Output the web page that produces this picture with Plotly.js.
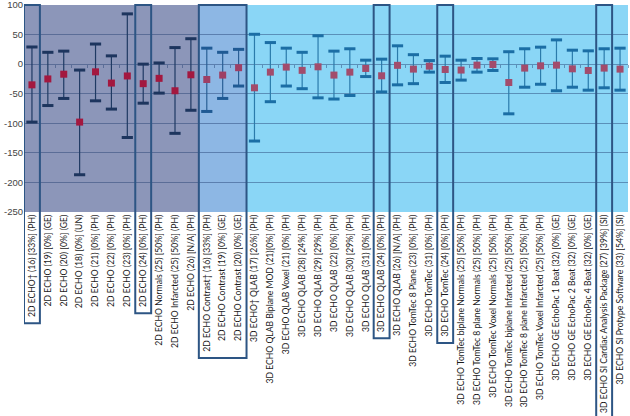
<!DOCTYPE html>
<html>
<head>
<meta charset="utf-8">
<script src="https://cdn.plot.ly/plotly-3.0.1.min.js"></script>
<style>
  body { margin: 0; background: #fff; }
  #chart { width: 630px; height: 416px; }
</style>
</head>
<body>
<div id="chart"></div>
<script>
// categories as printed under the axis
var labels = [
  "2D ECHO† (16) [33%] (PH)",
  "2D ECHO (19) [0%] (GE)",
  "2D ECHO (20) [0%] (GE)",
  "2D ECHO (18) [0%] (UN)",
  "2D ECHO (21) [0%] (PH)",
  "2D ECHO (22) [0%] (PH)",
  "2D ECHO (23) [0%] (PH)",
  "2D ECHO (24) [0%] (PH)",
  "2D ECHO Normals (25) [50%] (PH)",
  "2D ECHO Infarcted (25) [50%] (PH)",
  "2D ECHO (26) [N/A] (PH)",
  "2D ECHO Contrast† (16) [33%] (PH)",
  "2D ECHO Contrast (19) [0%] (GE)",
  "2D ECHO Contrast (20) [0%] (GE)",
  "3D ECHO† QLAB (17) [26%] (PH)",
  "3D ECHO QLAB Biplane MOD (21)[0%] (PH)",
  "3D ECHO QLAB Voxel (21) [0%] (PH)",
  "3D ECHO QLAB (28) [24%] (PH)",
  "3D ECHO QLAB (29) [29%] (PH)",
  "3D ECHO QLAB (22) [0%] (PH)",
  "3D ECHO QLAB (30) [29%] (PH)",
  "3D ECHO QLAB (31) [0%] (PH)",
  "3D ECHO QLAB (24) [0%] (PH)",
  "3D ECHO QLAB (26) [N/A] (PH)",
  "3D ECHO TomTec 8 Plane (23) [0%] (PH)",
  "3D ECHO TomTec (31) [0%] (PH)",
  "3D ECHO TomTec (24) [0%] (PH)",
  "3D ECHO TomTec biplane Normals (25) [50%] (PH)",
  "3D ECHO TomTec 8 plane Normals (25) [50%] (PH)",
  "3D ECHO TomTec Voxel Normals (25) [50%] (PH)",
  "3D ECHO TomTec biplane Infarcted (25) [50%] (PH)",
  "3D ECHO TomTec 8 plane Infarcted (25) [50%] (PH)",
  "3D ECHO TomTec Voxel Infarcted (25) [50%] (PH)",
  "3D ECHO GE EchoPac 1 Beat (32) [0%] (GE)",
  "3D ECHO GE EchoPac 2 Beat (32) [0%] (GE)",
  "3D ECHO GE EchoPac 4 Beat (32) [0%] (GE)",
  "3D ECHO SI Cardiac Analysis Package (27) [39%] (SI)",
  "3D ECHO SI Protype Software (33) [54%] (SI)"
];

// mean bias and limits of agreement
var means = [-35, -25, -17, -98, -13, -32, -20, -33, -24, -45, -18,
  -26, -18.5, -6,
  -40, -13.5, -5, -10.5, -4.5, -18.5, -13.5, -7.3, -19.7, -2, -8.4,
  -3.4, -9, -10, -1.7, -0.6, -31, -6.7, -2.8, -1.7, -7.9, -10.7, -6.7, -8.4];
var upper = [29, 20, 22, -10, 34, 14, 85, 0, 2, 28, 43,
  27, 20, 25,
  50.5, 36.5, 27, 20, 48, 22, 26, 6.7, 8.4, 31, 16,
  6, 13.5, 6.7, 9.5, 9, 21, 26, 28.7, 41, 23.6, 22.5, 26, 27];
var lower = [-98, -70, -58, -187, -62, -76, -124, -66, -49, -117, -78,
  -80, -58, -37,
  -130, -63.5, -37, -41.5, -57, -59, -53, -21, -47, -35, -33,
  -13.5, -31, -27, -13.5, -10.7, -84, -39, -34, -45, -39, -44, -40, -44];

// background groups: first / last index
var groups = [
  {from: 0, to: 10, bg: "#8c96b9", err: "#1f3a63", cap: "#1d355e", mark: "#a3183f"},
  {from: 11, to: 13, bg: "#8db7e4", err: "#2a5f96", cap: "#1f5a94", mark: "#9e3f65"},
  {from: 14, to: 37, bg: "#8ad6f6", err: "#2b7bab", cap: "#1b6ea5", mark: "#a24c6c"}
];

// outlined categories
var boxed = [[0, 0], [7, 7], [11, 13], [22, 22], [26, 26], [36, 36]];

var yTicks = [100, 50, 0, -50, -100, -150, -200, -250];
var yMin = -250, yMax = 100;

var labelFamily = "Lato";
var labelSize = 8.6;
var marginT = 5, marginB = 204;
var plotH = 416 - marginT - marginB;

var ctx = document.createElement("canvas").getContext("2d");
ctx.font = labelSize + "px " + labelFamily;
function textLen(s) { return ctx.measureText(s).width; }

var xs = labels.map(function (l, i) { return i; });

var traces = [];
groups.forEach(function (g) {
  var idx = xs.slice(g.from, g.to + 1);
  traces.push({
    x: idx,
    y: idx.map(function (i) { return means[i]; }),
    type: "scatter",
    mode: "markers",
    marker: {symbol: "square", size: 7, color: g.mark},
    error_y: {
      type: "data",
      symmetric: false,
      array: idx.map(function (i) { return upper[i] - means[i]; }),
      arrayminus: idx.map(function (i) { return means[i] - lower[i]; }),
      color: g.err,
      thickness: 1.2,
      width: 0
    },
    showlegend: false,
    hoverinfo: "skip"
  });
  // caps drawn as thick dashes
  traces.push({
    x: idx.concat(idx),
    y: idx.map(function (i) { return upper[i]; }).concat(idx.map(function (i) { return lower[i]; })),
    type: "scatter",
    mode: "markers",
    marker: {symbol: "line-ew", size: 8, line: {width: 3, color: g.cap}},
    showlegend: false,
    hoverinfo: "skip"
  });
});

// empty trace so that the tick axis on the zero line is drawn
traces.push({x: [], y: [], xaxis: "x2", showlegend: false});

var shapes = [];
groups.forEach(function (g) {
  shapes.push({
    type: "rect", layer: "below", xref: "x", yref: "paper",
    x0: g.from - 0.5, x1: g.to + 0.5, y0: 0, y1: 1,
    fillcolor: g.bg, line: {width: 0}
  });
});
boxed.forEach(function (b) {
  var longest = 0;
  for (var i = b[0]; i <= b[1]; i++) longest = Math.max(longest, textLen(labels[i]));
  shapes.push({
    type: "rect", layer: "above", xref: "x", yref: "paper",
    x0: b[0] - 0.5, x1: b[1] + 0.5, y0: -(longest + 9) / plotH, y1: 1,
    line: {color: "#2d5584", width: 2}
  });
});

var layout = {
  width: 630,
  height: 416,
  margin: {l: 24, r: 2, t: marginT, b: marginB},
  paper_bgcolor: "#ffffff",
  plot_bgcolor: "#ffffff",
  showlegend: false,
  xaxis: {
    range: [-0.5, labels.length - 0.5],
    tickvals: xs,
    ticktext: labels,
    tickangle: -90,
    ticks: "",
    showgrid: false,
    zeroline: false,
    showline: false,
    automargin: false,
    tickfont: {family: labelFamily, size: labelSize, color: "#1a1a1a"}
  },
  xaxis2: {
    overlaying: "x",
    anchor: "free",
    position: (0 - yMin) / (yMax - yMin),
    range: [-0.5, labels.length - 0.5],
    tickvals: xs.map(function (i) { return i + 0.5; }),
    ticks: "outside",
    ticklen: 3,
    tickcolor: "rgba(30,60,110,0.45)",
    showticklabels: false,
    showgrid: false,
    zeroline: false,
    showline: false
  },
  yaxis: {
    range: [yMin, yMax],
    tickvals: yTicks,
    ticktext: yTicks.map(function (v) { return String(v); }),
    ticklabeloverflow: "allow",
    showgrid: true,
    gridcolor: "rgba(30,60,110,0.45)",
    gridwidth: 1,
    zeroline: false,
    showline: false,
    ticks: "",
    automargin: false,
    tickfont: {family: "Liberation Sans, Arial", size: 9.5, color: "#444444"}
  },
  shapes: shapes
};

Plotly.newPlot("chart", traces, layout, {displayModeBar: false, staticPlot: true});
</script>
</body>
</html>
